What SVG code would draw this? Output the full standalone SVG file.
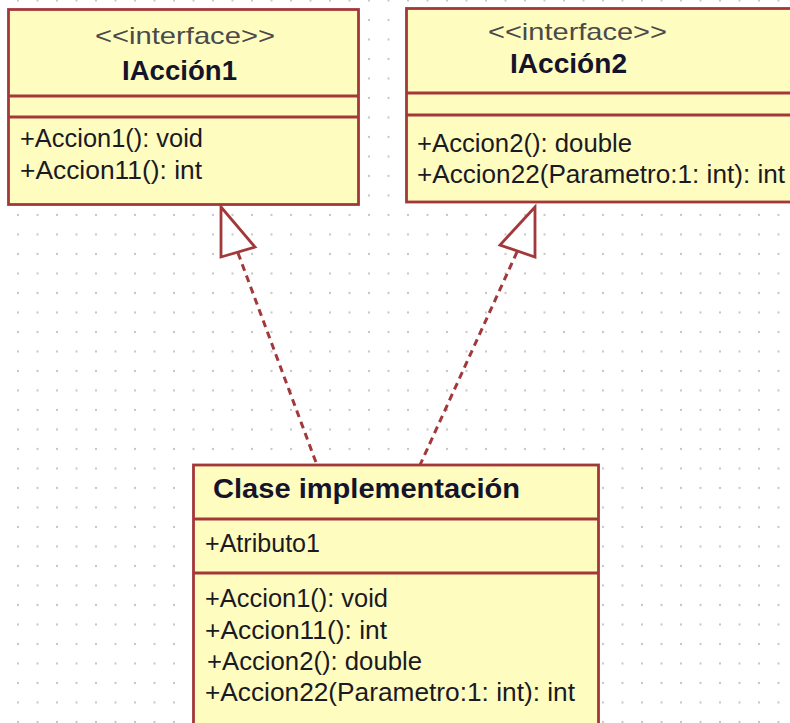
<svg xmlns="http://www.w3.org/2000/svg" width="790" height="723" viewBox="0 0 790 723">
  <style>
    .box { fill: #fffcc0; stroke: #a3383a; stroke-width: 2.8; }
    .sep { stroke: #a3383a; stroke-width: 2.8; }
    .stereo { font-family: "Liberation Sans", Arial, sans-serif; font-size: 24px; fill: #4a4a4a; }
    .title { font-family: "Liberation Sans", Arial, sans-serif; font-size: 27px; font-weight: bold; fill: #14142a; }
    .member { font-family: "Liberation Sans", Arial, sans-serif; font-size: 25px; fill: #1a1a22; }
    .realize { fill: none; stroke: #a3383a; stroke-width: 3; stroke-dasharray: 7 5; }
    .head { fill: none; stroke: #a3383a; stroke-width: 2.8; stroke-linejoin: miter; }
  </style>
  <defs>
    <pattern id="grid" patternUnits="userSpaceOnUse" x="8.25" y="-9.25" width="19.5" height="19.5">
      <circle cx="9.75" cy="9.75" r="1.1" fill="#c4c4c4"/>
    </pattern>
  </defs>

  <!-- canvas with dotted grid -->
  <rect x="0" y="0" width="790" height="723" fill="#ffffff"/>
  <rect x="0" y="0" width="790" height="723" fill="url(#grid)"/>

  <!-- realization connectors -->
  <g id="connectors">
    <line class="realize" x1="238" y1="253" x2="317" y2="465"/>
    <polygon class="head" points="221,207 255,247 221,257"/>
    <line class="realize" x1="517" y1="252" x2="420" y2="465"/>
    <polygon class="head" points="535,207 500,245 535,257"/>
  </g>

  <!-- interface IAcción1 -->
  <g id="iaccion1">
    <rect class="box" x="8.5" y="9.5" width="350" height="195"/>
    <line class="sep" x1="8.5" y1="96" x2="358.5" y2="96"/>
    <line class="sep" x1="8.5" y1="117" x2="358.5" y2="117"/>
    <text class="stereo" x="95" y="44" textLength="180" lengthAdjust="spacingAndGlyphs">&lt;&lt;interface&gt;&gt;</text>
    <text class="title" x="122" y="80" textLength="115" lengthAdjust="spacingAndGlyphs">IAcción1</text>
    <text class="member" x="20" y="147" textLength="183" lengthAdjust="spacingAndGlyphs">+Accion1(): void</text>
    <text class="member" x="20" y="179" textLength="182" lengthAdjust="spacingAndGlyphs">+Accion11(): int</text>
  </g>

  <!-- interface IAcción2 -->
  <g id="iaccion2">
    <rect class="box" x="406.5" y="8.5" width="400" height="193.5"/>
    <line class="sep" x1="406.5" y1="93" x2="800" y2="93"/>
    <line class="sep" x1="406.5" y1="115" x2="800" y2="115"/>
    <text class="stereo" x="488" y="40" textLength="179" lengthAdjust="spacingAndGlyphs">&lt;&lt;interface&gt;&gt;</text>
    <text class="title" x="510" y="73" textLength="117" lengthAdjust="spacingAndGlyphs">IAcción2</text>
    <text class="member" x="417" y="152" textLength="215" lengthAdjust="spacingAndGlyphs">+Accion2(): double</text>
    <text class="member" x="417" y="183" textLength="368" lengthAdjust="spacingAndGlyphs">+Accion22(Parametro:1: int): int</text>
  </g>

  <!-- class Clase implementación -->
  <g id="clase-implementacion">
    <rect class="box" x="193.5" y="465" width="405" height="300"/>
    <line class="sep" x1="193.5" y1="519" x2="598.5" y2="519"/>
    <line class="sep" x1="193.5" y1="573" x2="598.5" y2="573"/>
    <text class="title" x="213" y="498" textLength="307" lengthAdjust="spacingAndGlyphs">Clase implementación</text>
    <text class="member" x="205" y="552" textLength="115" lengthAdjust="spacingAndGlyphs">+Atributo1</text>
    <text class="member" x="205" y="607" textLength="183" lengthAdjust="spacingAndGlyphs">+Accion1(): void</text>
    <text class="member" x="205" y="639" textLength="182" lengthAdjust="spacingAndGlyphs">+Accion11(): int</text>
    <text class="member" x="207" y="670" textLength="215" lengthAdjust="spacingAndGlyphs">+Accion2(): double</text>
    <text class="member" x="205" y="701" textLength="370" lengthAdjust="spacingAndGlyphs">+Accion22(Parametro:1: int): int</text>
  </g>
</svg>
